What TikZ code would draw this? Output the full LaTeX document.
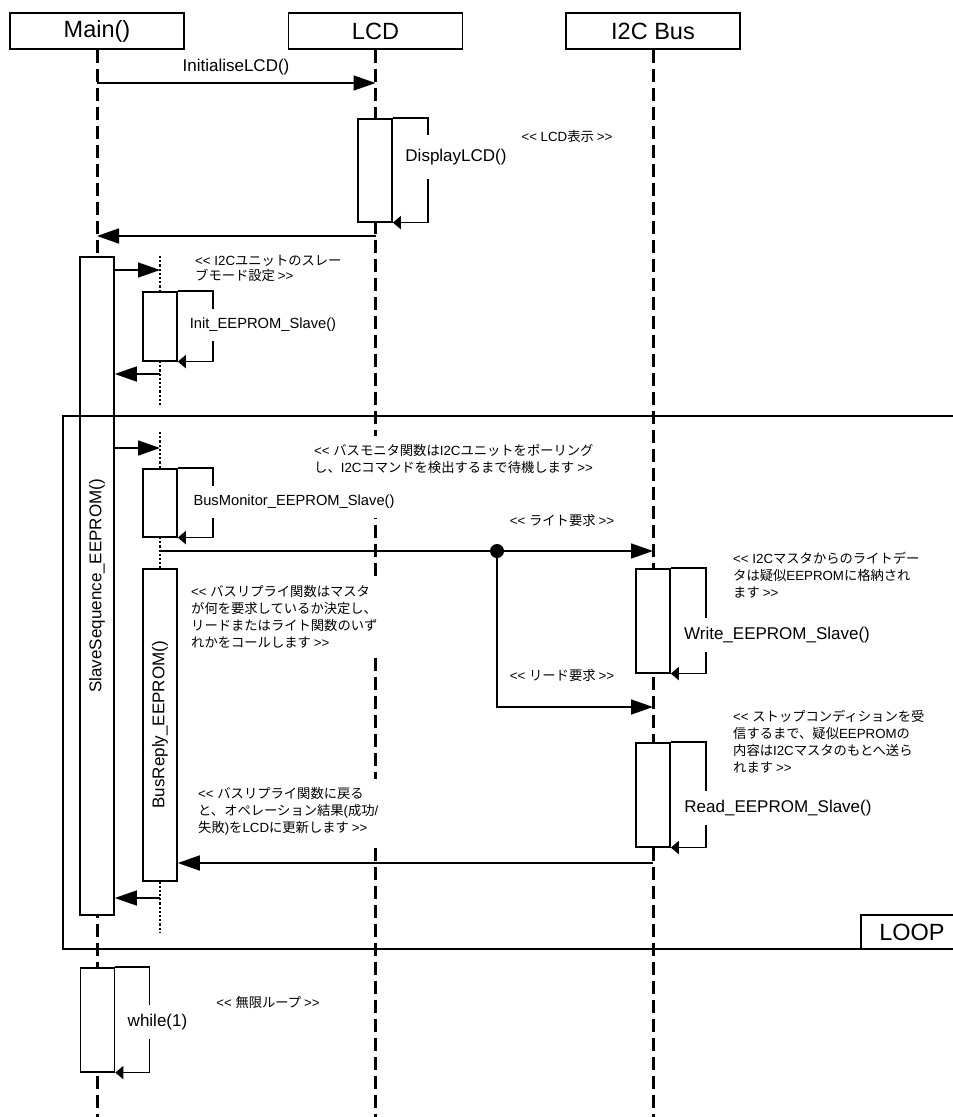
\documentclass[tikz,border=0pt]{standalone}
\usepackage{fontspec}
\setmainfont{Liberation Sans}
\newfontfamily\latinfont{Liberation Sans}
\newfontfamily\cjk{Noto Sans CJK JP}
\usetikzlibrary{arrows.meta}
\XeTeXinterchartokenstate=1
\newXeTeXintercharclass\JPclass
\newcount\jpc
\jpc="3000
\loop
  \XeTeXcharclass\jpc=\JPclass
  \advance\jpc by 1
\ifnum\jpc<"A000 \repeat
\jpc="FF00
\loop
  \XeTeXcharclass\jpc=\JPclass
  \advance\jpc by 1
\ifnum\jpc<"FFF0 \repeat
\XeTeXinterchartoks 0 \JPclass = {\cjk}
\XeTeXinterchartoks 4095 \JPclass = {\cjk}
\XeTeXinterchartoks \JPclass 0 = {\latinfont}
\XeTeXinterchartoks 4095 0 = {\latinfont}
\tikzset{
  life/.style={line width=3pt, dash pattern=on 13pt off 6pt},
  sublife/.style={line width=2.6pt, dash pattern=on 2.2pt off 2pt},
  hdr/.style={draw, line width=1.6pt, minimum width=174pt, minimum height=36pt, inner sep=0pt, font=\fontsize{23.5}{28}\selectfont},
  act/.style={draw, fill=white, line width=1.6pt, minimum width=34pt, inner sep=0pt, anchor=north},
  msg/.style={line width=1.6pt, -{Triangle[length=22pt,width=15pt]}},
  plain/.style={line width=1.6pt},
  selfmsg/.style={line width=1.6pt, -{Triangle[length=8pt,width=13pt]}},
  lbl/.style={font=\fontsize{17}{20}\selectfont, inner sep=0pt},
  slbl/.style={lbl, fill=white, inner xsep=1pt, inner ysep=9pt},
  small/.style={font=\fontsize{14.7}{18}\selectfont},
  note/.style={font=\fontsize{13.3}{17}\selectfont, align=left, fill=white, inner xsep=4pt, inner ysep=8pt, anchor=west},
  cnote/.style={font=\fontsize{13.3}{17}\selectfont, inner sep=1pt},
  frame/.style={line width=1.8pt},
  dot/.style={circle, fill=black, inner sep=0pt, minimum size=14pt}
}
\begin{document}
\begin{tikzpicture}[x=1pt,y=-1pt]
\useasboundingbox[fill=white] (0,0) rectangle (953,1117);
% headers
\node[hdr] (main) at (97,31) {Main()};
\node[hdr] (lcd) at (375.5,31) {LCD};
\node[hdr] (bus) at (653,31) {I2C Bus};
% lifelines
\draw[life] (main.south) -- (main.south |- 0,1117);
\draw[life] (lcd.south) -- (lcd.south |- 0,1117);
\draw[life] (bus.south) -- (bus.south |- 0,1117);
% sub lifeline (nested)
\coordinate (subA) at (160,256);
\coordinate (subB) at (160,407);
\coordinate (subC) at (160,432);
\coordinate (subD) at (160,932);
\draw[sublife] (subA) -- (subB);
\draw[sublife] (subC) -- (subD);
% activations
\node[act, minimum height=103pt] (disp) at (375,118) {};
\node[act, minimum height=658pt] (seq) at (97,256) {};
\node[act, minimum height=69pt] (init) at (160,291) {};
\node[act, minimum height=68pt] (busmon) at (160,468) {};
\node[act, minimum height=312pt] (busreply) at (160,568) {};
\node[act, minimum height=104pt] (write) at (653,568) {};
\node[act, minimum height=104pt] (read) at (653,742) {};
\node[act, minimum height=104pt] (while) at (97.5,967) {};
\node[lbl, rotate=90] (seqlbl) at (seq.center) {SlaveSequence\_EEPROM()};
\node[lbl, rotate=90] (brlbl) at (busreply.center) {BusReply\_EEPROM()};
% loop frame
\draw[frame] (960,416) -| (63,949) -- (960,949);
\draw[frame] (861,949) |- (960,915);
\node[font=\fontsize{23.5}{28}\selectfont, inner sep=0pt] (looplbl) at (912,932) {LOOP};
% self calls
\draw[selfmsg] (disp.north east) -- ++(35,0) |- (disp.south east);
\draw[selfmsg] (init.north east) -- ++(35,0) |- (init.south east);
\draw[selfmsg] (busmon.north east) -- ++(35,0) |- (busmon.south east);
\draw[selfmsg] (write.north east) -- ++(35,0) |- (write.south east);
\draw[selfmsg] (read.north east) -- ++(35,0) |- (read.south east);
\draw[selfmsg] (while.north east) -- ++(34,0) |- (while.south east);
\node[slbl, inner ysep=14pt] (displbl) at (456,157) {DisplayLCD()};
\node[slbl, small] (initlbl) at (263,325) {Init\_EEPROM\_Slave()};
\node[slbl, small] (bmlbl) at (294,502) {BusMonitor\_EEPROM\_Slave()};
\node[slbl] (wrlbl) at (777,635) {Write\_EEPROM\_Slave()};
\node[slbl] (rdlbl) at (778,808) {Read\_EEPROM\_Slave()};
\node[slbl] (whlbl) at (157.5,1022) {while(1)};
% notes
\node[cnote] (n0) at (567,136) {<< LCD表示 >>};
\node[note, font=\fontsize{13.3}{15}\selectfont] (n1) at (191,268.5) {<< I2Cユニットのスレー\\ブモード設定 >>};
\node[note] (n2) at (310,458.5) {<< バスモニタ関数はI2Cユニットをポーリング\\し、I2Cコマンドを検出するまで待機します >>};
\node[note] (n3) at (187,617) {<< バスリプライ関数はマスタ\\が何を要求しているか決定し、\\リードまたはライト関数のいず\\れかをコールします >>};
\node[note] (n4) at (194,811) {<< バスリプライ関数に戻る\\と、オペレーション結果(成功/\\失敗)をLCDに更新します >>};
\node[note] (n5) at (729,575) {<< I2Cマスタからのライトデー\\タは疑似EEPROMに格納され\\ます >>};
\node[note] (n6) at (729,742) {<< ストップコンディションを受\\信するまで、疑似EEPROMの\\内容はI2Cマスタのもとへ送ら\\れます >>};
\node[cnote] (n7) at (562,520) {<< ライト要求 >>};
\node[cnote] (n8) at (562,675) {<< リード要求 >>};
\node[cnote] (n9) at (268,1002) {<< 無限ループ >>};
% messages
\node[lbl] (initlcd) at (236,67) {InitialiseLCD()};
\draw[msg] (main.south |- 0,83) -- (lcd.south |- 0,83);
\draw[msg] (lcd.south |- 0,236) -- (main.south |- 0,236);
\draw[msg] (seq.east |- 0,270) -- (init.north |- 0,270);
\draw[msg] (init.south |- 0,374) -- (seq.east |- 0,374);
\draw[msg] (seq.east |- 0,448) -- (busmon.north |- 0,448);
\node[dot] (split) at (497,551) {};
\draw[plain] (busmon.south |- split) -- (split);
\draw[msg] (split) -- (split -| bus.south);
\draw[msg] (split) |- (bus.south |- 0,707);
\draw[msg] (bus.south |- 0,863) -- (busreply.east |- 0,863);
\draw[msg] (busreply.south |- 0,898) -- (seq.east |- 0,898);
\end{tikzpicture}
\end{document}
